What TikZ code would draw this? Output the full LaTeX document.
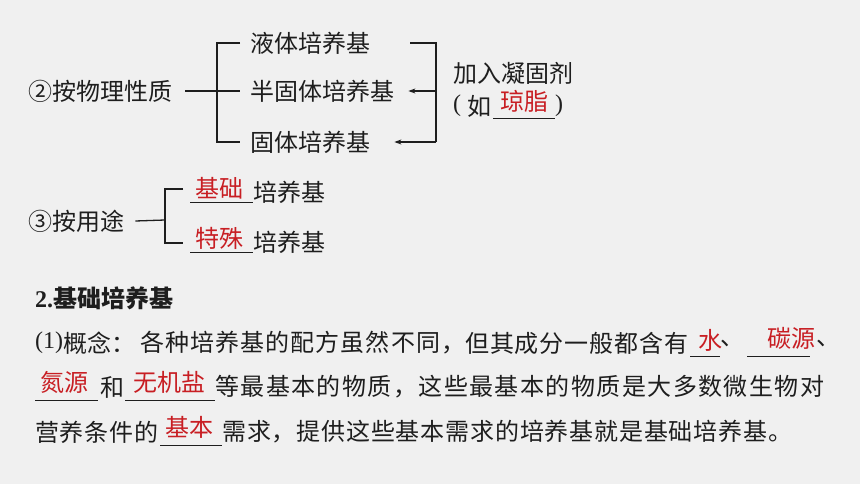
\documentclass[tikz,border=0pt]{standalone}
\usepackage{fontspec}
\setmainfont{Liberation Serif}
\newfontfamily\cjk{Noto Sans CJK SC}
\usetikzlibrary{arrows.meta}
\definecolor{bg}{RGB}{240,240,240}
\definecolor{ink}{RGB}{30,30,30}
\definecolor{ansred}{RGB}{200,30,35}
\newcommand{\sz}{\fontsize{24}{24}\selectfont}
\makeatletter
\newcommand{\spr}[2]{\makebox[#1][s]{\spr@a#2\@nil}}
\def\spr@a#1{#1\spr@b}
\def\spr@b#1{\ifx#1\@nil\else\hfil#1\expandafter\spr@b\fi}
\makeatother
\tikzset{
  txt/.style={anchor=west, inner sep=0pt, font=\cjk\sz, text=ink},
  ans/.style={txt, text=ansred},
  lat/.style={anchor=west, inner sep=0pt, font=\rmfamily\sz, text=ink},
  ln/.style={draw=ink, line width=1.3pt},
  ul/.style={draw=ink, line width=0.9pt},
  arr/.style={ln, -{Stealth[length=7pt,width=5pt]}},
}
\begin{document}
\begin{tikzpicture}[x=1pt,y=-1pt]
\fill[bg] (0,0) rectangle (860,484);
\useasboundingbox (0,0) rectangle (860,484);

% ---- section 2: physical nature
\node[txt] (n2) at (28,91) {②按物理性质};
\node[txt] (l1) at (250,43) {液体培养基};
\node[txt] (l2) at (250,91) {半固体培养基};
\node[txt] (l3) at (250,142) {固体培养基};
\coordinate (jb) at (217,142);
\draw[ln] ([xshift=-10pt]l1.west) -| (jb) -- ([xshift=-10pt]l3.west);
\draw[ln] ([xshift=13pt]n2.east) -- ([xshift=-10pt]l2.west);

\coordinate (rt) at (436,43);
\coordinate (rm) at (436,91);
\coordinate (rb) at (436,142);
\draw[ln] ([xshift=40pt]l1.east) -- (rt) -- (rb);
\draw[arr] (rb) -- ([xshift=24pt]l3.east);
\draw[arr] (rm) -- ([xshift=14pt]l2.east);

\node[txt] (add) at (453,73) {加入凝固剂};
\node[lat] (lp) at (453,106) {(};
\node[txt] (ru) at (467,106) {如};
\node[ans] (agar) at (500,101) {琼脂};
\node[lat] (rp) at (555,106) {)};
\draw[ul] (493,118) -- (555,118);

% ---- section 3: use
\node[txt] (n3) at (28,221) {③按用途};
\coordinate (ut) at (165,189);
\coordinate (ub) at (165,243);
\node[ans] (jc) at (195,188) {基础};
\node[txt] (jcp) at (253,192) {培养基};
\node[ans] (ts) at (195,238) {特殊};
\node[txt] (tsp) at (253,242) {培养基};
\draw[ln] ([xshift=11pt]n3.east) -- (165,220);
\draw[ln] (183,189) -- (ut) -- (ub) -- (183,243);
\draw[ul] (190,202) -- (253,202);
\draw[ul] (190,252) -- (253,252);

% ---- 2. basic medium
\node[txt, font=\bfseries\sz] (h2) at (35,298) {{\rmfamily\bfseries 2.}\cjk\bfseries 基础培养基};

% line 1
\node[lat] (a1p) at (35,343) {(1)};
\node[txt] (a1a) at (63,343) {概念：};
\node[txt] (a1b) at (140,343) {\spr{325pt}{各种培养基的配方虽然不同，}};
\node[txt] (a1c) at (465,343) {\spr{223pt}{但其成分一般都含有}};
\node[ans] (w) at (698,340) {水};
\draw[ul] (690,356) -- (720,356);
\node[txt] (d1) at (720,343) {、};
\node[ans] (c) at (767,338) {碳源};
\draw[ul] (747,356) -- (810,356);
\node[txt] (d2) at (816,343) {、};

% line 2
\node[ans] (nsrc) at (40,382) {氮源};
\draw[ul] (35,400) -- (98,400);
\node[txt] (he) at (100,387) {和};
\node[ans] (inorg) at (133,382) {无机盐};
\draw[ul] (125,400) -- (215,400);
\node[txt] (a2) at (215,387) {\spr{609pt}{等最基本的物质，这些最基本的物质是大多数微生物对}};

% line 3
\node[txt] (a3a) at (35,432) {\spr{123pt}{营养条件的}};
\node[ans] (basic) at (165,427) {基本};
\draw[ul] (160,445) -- (222,445);
\node[txt] (a3b) at (222,432) {\spr{570pt}{需求，提供这些基本需求的培养基就是基础培养基。}};
\end{tikzpicture}
\end{document}
